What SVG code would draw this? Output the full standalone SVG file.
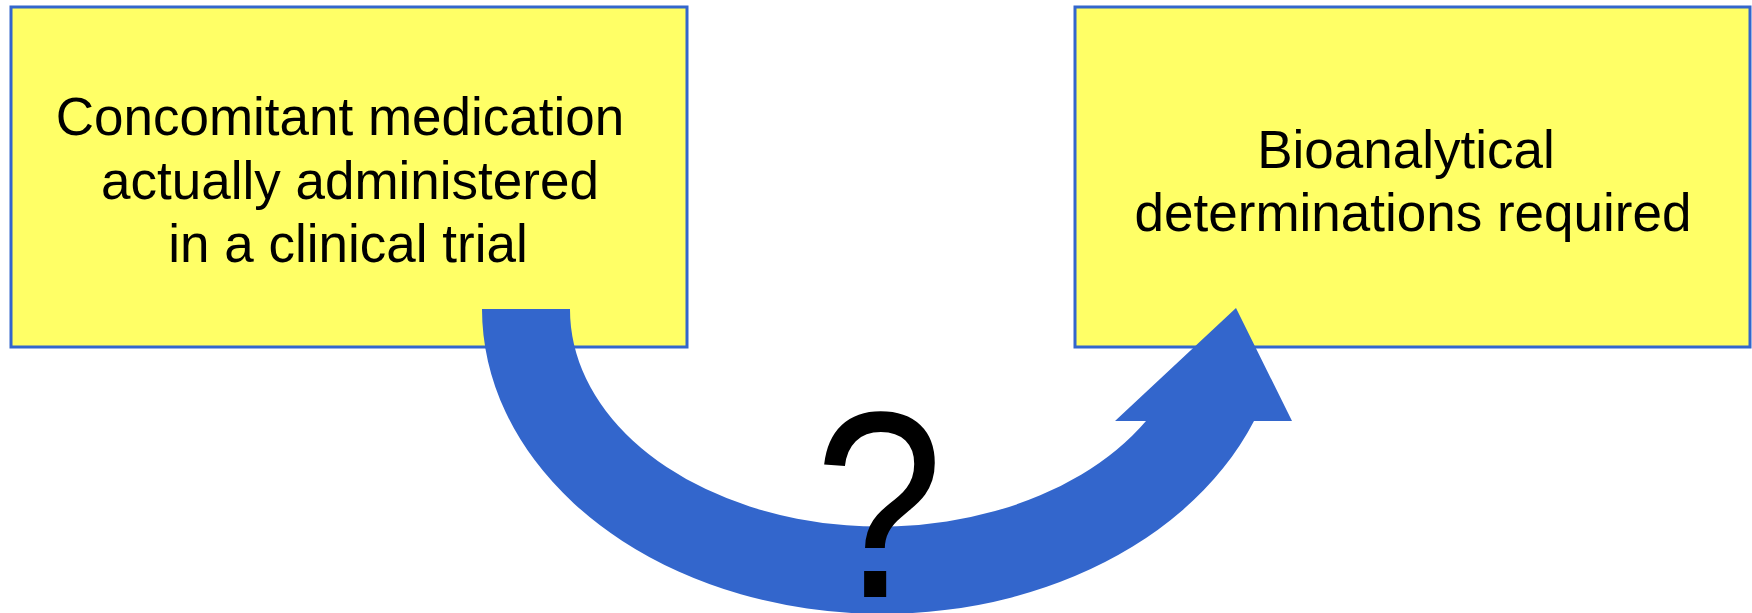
<svg xmlns="http://www.w3.org/2000/svg" width="1752" height="613" viewBox="0 0 1752 613">
  <style>
    .box { fill: #FFFF66; stroke: #3366CC; stroke-width: 3; }
    .lbl { font-family: "Liberation Sans", Arial, sans-serif; font-size: 53px; fill: #000; text-anchor: middle; }
    .q { font-family: "Liberation Sans", Arial, sans-serif; font-size: 266px; fill: #000; text-anchor: middle; }
    .arrow { fill: #3366CC; stroke: none; }
  </style>
  <rect width="1752" height="613" fill="#FFFFFF"/>
  <g id="node-medication">
    <rect class="box" x="11" y="7" width="676" height="340"/>
    <text class="lbl" x="340" y="135">Concomitant medication</text>
    <text class="lbl" x="350" y="199">actually administered</text>
    <text class="lbl" x="348" y="262">in a clinical trial</text>
  </g>
  <g id="node-bioanalytical">
    <rect class="box" x="1075" y="7" width="675" height="340"/>
    <text class="lbl" x="1406" y="168">Bioanalytical</text>
    <text class="lbl" x="1413" y="231">determinations required</text>
  </g>
  <g id="connectors">
    <path class="arrow" d="M 482 309 L 570 309 A 310 217 0 0 0 1146 421 L 1115 421 L 1236 308 L 1292 421 L 1254 421 A 400 305 0 0 1 482 309 Z"/>
  </g>
  <g id="label-question">
    <text class="q" transform="translate(879 597) scale(0.87 1)" x="0" y="0">?</text>
  </g>
</svg>
